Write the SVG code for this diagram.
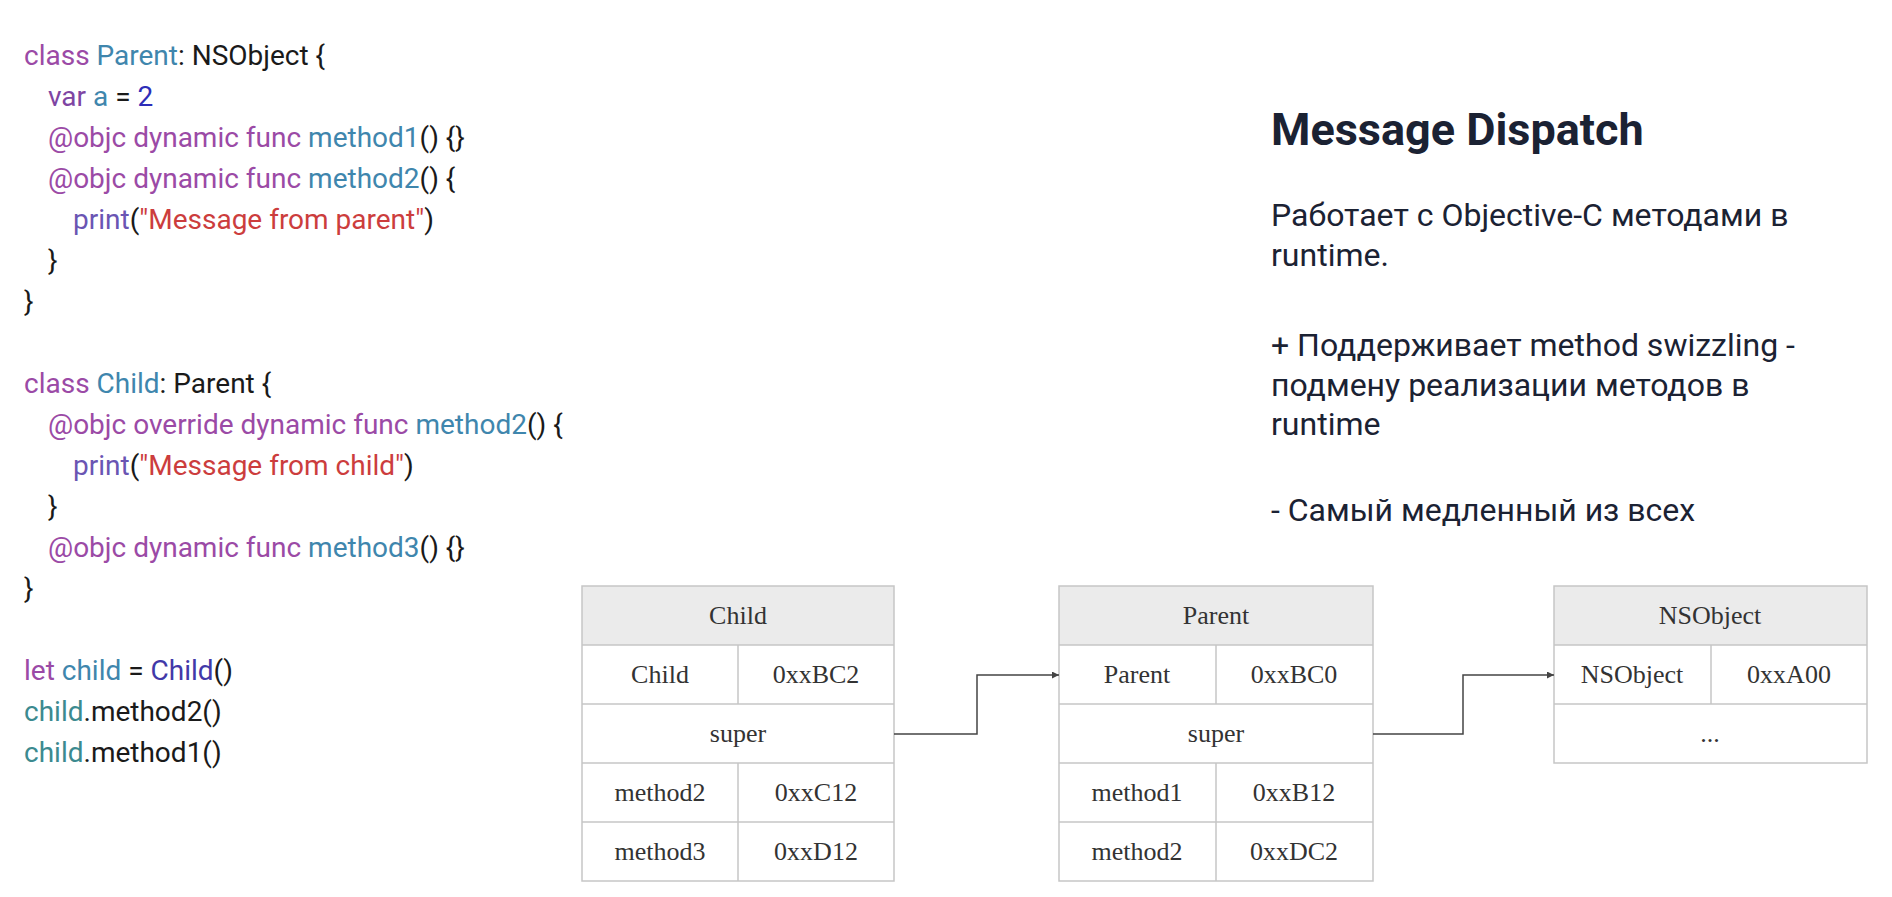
<svg xmlns="http://www.w3.org/2000/svg" width="1892" height="897" viewBox="0 0 1892 897">
<defs>
<style>
.code{font-family:Roboto,"Noto Sans",sans-serif;font-size:28px;fill:#1a1a1a}
.kw{fill:#9b4aa6}
.var{fill:#7e45a3}
.id{fill:#3f86ad}
.num{fill:#2d2db8}
.fn{fill:#6a55b3}
.str{fill:#cc3d3d}
.ty{fill:#4238a8}
.cv{fill:#3c8a8f}
.head{font-family:Roboto,"Noto Sans",sans-serif;font-weight:bold;font-size:45px;fill:#1b2233}
.body{font-family:Roboto,"Noto Sans",sans-serif;font-size:32px;fill:#1b2233}
.hdr{fill:#ebebeb;stroke:none}
.cell{fill:#ffffff;stroke:none}
.grid{stroke:#c6c6c6;stroke-width:1.5;fill:none}
.tt{font-family:"Liberation Serif","Times New Roman",serif;font-size:26px;fill:#333333;text-anchor:middle}
.conn{stroke:#444444;stroke-width:1.5;fill:none}
</style>
<marker id="arr" viewBox="0 0 10 10" refX="10" refY="5" markerWidth="7" markerHeight="7" markerUnits="userSpaceOnUse" orient="auto">
<path d="M0,0 L10,5 L0,10 Z" fill="#444444"/>
</marker>
</defs>
<rect width="1892" height="897" fill="#ffffff"/>

<g id="code">
<text class="code" x="24" y="65"><tspan class="kw">class </tspan><tspan class="id">Parent</tspan>: NSObject {</text>
<text class="code" x="48" y="106"><tspan class="var">var </tspan><tspan class="id">a</tspan> = <tspan class="num">2</tspan></text>
<text class="code" x="48" y="147"><tspan class="kw">@objc dynamic func </tspan><tspan class="id">method1</tspan>() {}</text>
<text class="code" x="48" y="188"><tspan class="kw">@objc dynamic func </tspan><tspan class="id">method2</tspan>() {</text>
<text class="code" x="73" y="229"><tspan class="fn">print</tspan>(<tspan class="str">"Message from parent"</tspan>)</text>
<text class="code" x="48" y="270">}</text>
<text class="code" x="24" y="311">}</text>
<text class="code" x="24" y="393"><tspan class="kw">class </tspan><tspan class="id">Child</tspan>: Parent {</text>
<text class="code" x="48" y="434"><tspan class="kw">@objc override dynamic func </tspan><tspan class="id">method2</tspan>() {</text>
<text class="code" x="73" y="475"><tspan class="fn">print</tspan>(<tspan class="str">"Message from child"</tspan>)</text>
<text class="code" x="48" y="516">}</text>
<text class="code" x="48" y="557"><tspan class="kw">@objc dynamic func </tspan><tspan class="id">method3</tspan>() {}</text>
<text class="code" x="24" y="598">}</text>
<text class="code" x="24" y="680"><tspan class="kw">let </tspan><tspan class="id">child</tspan> = <tspan class="ty">Child</tspan>()</text>
<text class="code" x="24" y="721"><tspan class="cv">child</tspan>.method2()</text>
<text class="code" x="24" y="762"><tspan class="cv">child</tspan>.method1()</text>
</g>

<g id="description">
<text class="head" x="1271" y="145">Message Dispatch</text>
<text class="body" x="1271" y="226">Работает с Objective-C методами в</text>
<text class="body" x="1271" y="266">runtime.</text>
<text class="body" x="1271" y="356">+ Поддерживает method swizzling -</text>
<text class="body" x="1271" y="396">подмену реализации методов в</text>
<text class="body" x="1271" y="435">runtime</text>
<text class="body" x="1271" y="521">- Самый медленный из всех</text>
</g>

<g id="node-child">
<rect class="hdr" x="582" y="586" width="312" height="59"/>
<rect class="cell" x="582" y="645" width="312" height="236"/>
<path class="grid" d="M582,586 H894 V881 H582 Z M582,645 H894 M582,704 H894 M582,763 H894 M582,822 H894 M738,645 V704 M738,763 V881"/>
<text class="tt" x="738" y="624">Child</text>
<text class="tt" x="660" y="683">Child</text>
<text class="tt" x="816" y="683">0xxBC2</text>
<text class="tt" x="738" y="742">super</text>
<text class="tt" x="660" y="801">method2</text>
<text class="tt" x="816" y="801">0xxC12</text>
<text class="tt" x="660" y="860">method3</text>
<text class="tt" x="816" y="860">0xxD12</text>
</g>

<g id="node-parent">
<rect class="hdr" x="1059" y="586" width="314" height="59"/>
<rect class="cell" x="1059" y="645" width="314" height="236"/>
<path class="grid" d="M1059,586 H1373 V881 H1059 Z M1059,645 H1373 M1059,704 H1373 M1059,763 H1373 M1059,822 H1373 M1216,645 V704 M1216,763 V881"/>
<text class="tt" x="1216" y="624">Parent</text>
<text class="tt" x="1137" y="683">Parent</text>
<text class="tt" x="1294" y="683">0xxBC0</text>
<text class="tt" x="1216" y="742">super</text>
<text class="tt" x="1137" y="801">method1</text>
<text class="tt" x="1294" y="801">0xxB12</text>
<text class="tt" x="1137" y="860">method2</text>
<text class="tt" x="1294" y="860">0xxDC2</text>
</g>

<g id="node-nsobject">
<rect class="hdr" x="1554" y="586" width="313" height="59"/>
<rect class="cell" x="1554" y="645" width="313" height="118"/>
<path class="grid" d="M1554,586 H1867 V763 H1554 Z M1554,645 H1867 M1554,704 H1867 M1711,645 V704"/>
<text class="tt" x="1710" y="624">NSObject</text>
<text class="tt" x="1632" y="683">NSObject</text>
<text class="tt" x="1789" y="683">0xxA00</text>
<text class="tt" x="1710" y="742">...</text>
</g>

<g id="connectors">
<path class="conn" d="M894,734 H977 V675 H1059" marker-end="url(#arr)"/>
<path class="conn" d="M1373,734 H1463 V675 H1554" marker-end="url(#arr)"/>
</g>
</svg>
